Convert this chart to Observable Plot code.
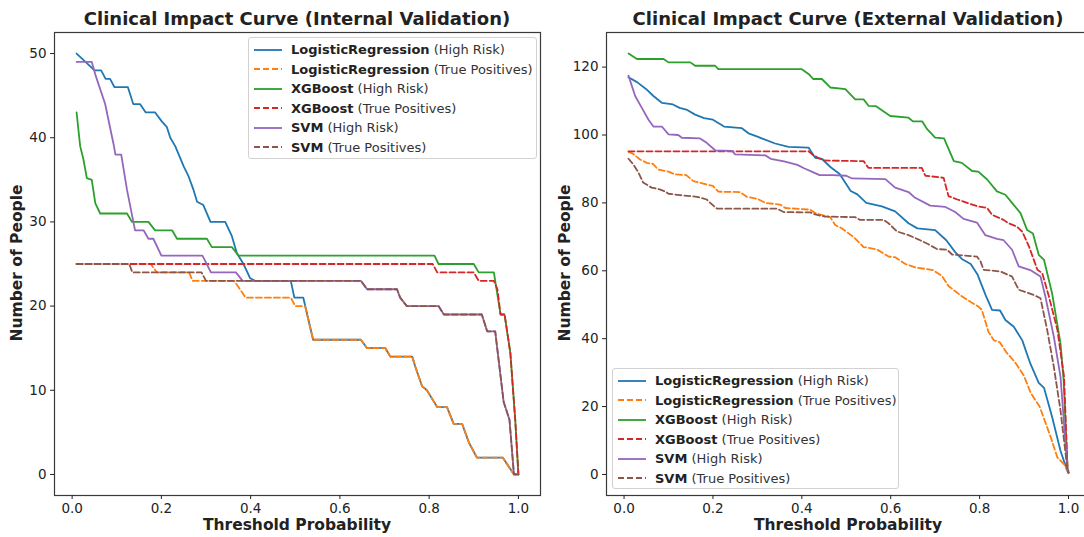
<!DOCTYPE html>
<html><head><meta charset="utf-8">
<script src="https://cdn.jsdelivr.net/npm/d3@7"></script>
<script src="https://cdn.jsdelivr.net/npm/@observablehq/plot@0.6"></script>
<style>
body{margin:0;background:#fff;font-family:"DejaVu Sans",sans-serif;color:#222;}
#root{position:relative;width:1084px;height:537px;overflow:hidden;background:#fff;}
.panel{position:absolute;top:0;}
.title{position:absolute;font-weight:bold;font-size:18px;white-space:nowrap;transform:translate(-50%,-50%);}
.xlab{position:absolute;font-weight:bold;font-size:15.5px;white-space:nowrap;transform:translate(-50%,-50%);}
.ylab{position:absolute;font-weight:bold;font-size:15.5px;white-space:nowrap;transform:translate(-50%,-50%) rotate(-90deg);}
.legend{position:absolute;border:1px solid #d2d2d2;border-radius:3px;background:rgba(255,255,255,0.85);box-sizing:border-box;padding-top:2px;}
.row{height:19.5px;line-height:19.5px;font-size:13px;white-space:nowrap;display:flex;align-items:center;}
.row svg{margin-left:5px;margin-right:9px;flex:none;}
.row b{font-weight:bold;color:#222;}
.row span{color:#333;}
</style></head><body><div id="root"></div>
<script>
// ---------- data ----------
const thresholdTicks = [0, 0.2, 0.4, 0.6, 0.8, 1.0];
const intYTicks = [0, 10, 20, 30, 40, 50];
const extYTicks = [0, 20, 40, 60, 80, 100, 120];
const modelNames = ["LogisticRegression", "LogisticRegression", "XGBoost", "XGBoost", "SVM", "SVM"];
const curveKinds = ["High Risk", "True Positives", "High Risk", "True Positives", "High Risk", "True Positives"];
const panelTitles = ["Clinical Impact Curve (Internal Validation)", "Clinical Impact Curve (External Validation)"];

// Internal validation: [threshold, number of people]
const intLRHigh = [[0.01,50],[0.03,49],[0.05,48],[0.065,48],[0.075,47],[0.085,47],[0.095,46],[0.125,46],[0.137,44],[0.152,44],[0.165,43],[0.186,43],[0.2,42],[0.212,41.3],[0.22,40],[0.231,39],[0.25,36.6],[0.261,35.4],[0.272,33.8],[0.28,32.4],[0.294,32],[0.31,30],[0.343,30],[0.358,28.3],[0.369,26.3],[0.384,25],[0.399,23.3],[0.41,23],[0.49,23],[0.498,21],[0.518,21],[0.54,16],[0.647,16],[0.661,15],[0.702,15],[0.713,14],[0.762,14],[0.769,12.8],[0.784,10.5],[0.795,10],[0.818,8],[0.84,8],[0.855,6],[0.874,6],[0.889,3.8],[0.907,2],[0.965,2],[0.99,0],[1.0,0]];
const intLRTP = [[0.01,25],[0.176,25],[0.19,24],[0.262,24],[0.27,23],[0.363,23],[0.389,21],[0.49,21],[0.5,20],[0.522,20],[0.54,16],[0.647,16],[0.661,15],[0.702,15],[0.713,14],[0.762,14],[0.769,12.8],[0.784,10.5],[0.795,10],[0.818,8],[0.84,8],[0.855,6],[0.874,6],[0.889,3.8],[0.907,2],[0.965,2],[0.99,0],[1.0,0]];
const intXGBHigh = [[0.01,43],[0.018,39],[0.025,37.5],[0.033,35.2],[0.044,35],[0.052,32.2],[0.063,31],[0.123,31],[0.134,30],[0.171,30],[0.186,29],[0.224,29],[0.235,28],[0.302,28],[0.313,27],[0.358,27],[0.373,26],[0.812,26],[0.821,25],[0.9,25],[0.911,24],[0.945,24],[0.96,19],[0.969,19],[0.982,14.4],[0.993,6.4],[1.0,0]];
const intXGBTP = [[0.01,25],[0.808,25],[0.818,24],[0.9,24],[0.911,23],[0.945,23],[0.953,22],[0.96,19],[0.969,19],[0.982,14.4],[0.993,6.4],[1.0,0]];
const intSVMHigh = [[0.01,49],[0.044,49],[0.052,47.5],[0.074,44],[0.093,39.2],[0.097,38],[0.11,38],[0.123,33.8],[0.141,29],[0.16,29],[0.171,28],[0.182,28],[0.2,26],[0.292,26],[0.311,24],[0.367,24],[0.382,23],[0.647,23],[0.661,22],[0.728,22],[0.735,21],[0.75,20],[0.821,20],[0.833,19],[0.918,19],[0.93,17],[0.948,17],[0.967,8.6],[0.98,6.5],[0.99,0],[1.0,0]];
const intSVMTP = [[0.01,25],[0.128,25],[0.135,24],[0.29,24],[0.3,23],[0.647,23],[0.661,22],[0.728,22],[0.735,21],[0.75,20],[0.821,20],[0.833,19],[0.918,19],[0.93,17],[0.948,17],[0.967,8.6],[0.98,6.5],[0.99,0],[1.0,0]];

// External validation
const extLRHigh = [[0.01,117],[0.03,115.5],[0.05,113.5],[0.066,111.5],[0.085,109.5],[0.11,109],[0.125,108],[0.14,107.5],[0.16,106],[0.18,105],[0.2,104.5],[0.225,102.5],[0.265,102],[0.28,100.5],[0.3,99.5],[0.34,97.5],[0.37,96.5],[0.415,96.3],[0.43,93.3],[0.445,93],[0.465,90.5],[0.485,88.5],[0.51,83.5],[0.525,82.5],[0.545,80],[0.58,79],[0.61,77.5],[0.64,74],[0.66,72.5],[0.7,72],[0.725,69],[0.745,65.5],[0.76,63.5],[0.78,62],[0.795,59],[0.813,53],[0.828,48.5],[0.846,48.3],[0.858,45.5],[0.877,43.5],[0.896,39.5],[0.914,32.7],[0.933,27],[0.945,25.5],[0.963,17],[0.982,7],[0.996,1.5],[1.0,1]];
const extLRTP = [[0.01,95],[0.02,94.5],[0.036,92.8],[0.051,91.8],[0.065,91.5],[0.077,89.8],[0.1,89.2],[0.115,88.4],[0.14,88.2],[0.156,86.4],[0.186,85.4],[0.2,85],[0.212,83.3],[0.261,83.2],[0.276,81.8],[0.3,81.2],[0.318,80],[0.351,79.5],[0.363,78.5],[0.419,78],[0.43,77],[0.464,75.8],[0.475,73.5],[0.49,72.5],[0.516,70],[0.539,67],[0.569,66.3],[0.595,64.2],[0.61,64],[0.633,62],[0.655,61],[0.695,60.2],[0.715,58.5],[0.73,55.5],[0.76,52.5],[0.78,50.8],[0.797,49.5],[0.805,48.5],[0.82,42],[0.832,39.5],[0.845,39],[0.86,36],[0.88,33],[0.9,29],[0.915,24],[0.935,20],[0.96,11],[0.975,5],[0.99,3],[1.0,1]];
const extXGBHigh = [[0.01,124],[0.029,122.4],[0.089,122.4],[0.1,121.4],[0.149,121.4],[0.16,120.4],[0.205,120.4],[0.212,119.4],[0.4,119.4],[0.415,118],[0.426,116.5],[0.445,116.5],[0.464,114],[0.498,113.5],[0.52,110.5],[0.539,110.5],[0.55,108.6],[0.567,108.5],[0.599,105.6],[0.64,105.1],[0.65,104],[0.671,104],[0.682,101.7],[0.7,99.2],[0.72,99],[0.742,92.3],[0.76,91.8],[0.783,89.4],[0.797,89.2],[0.817,86.9],[0.839,83.4],[0.858,82.4],[0.873,80],[0.892,77],[0.907,72],[0.92,71],[0.933,64.7],[0.945,63.2],[0.963,53.4],[0.982,38.6],[0.989,27.8],[0.998,1.2],[1.0,0.5]];
const extXGBTP = [[0.01,95.2],[0.415,95.2],[0.426,94],[0.449,92.5],[0.539,92.3],[0.55,90.3],[0.67,90.3],[0.678,88],[0.719,87.4],[0.73,82],[0.75,81],[0.772,80],[0.795,79],[0.817,78.5],[0.828,76.5],[0.854,75],[0.865,74],[0.884,73],[0.896,71.5],[0.911,67.2],[0.93,60.3],[0.941,59.3],[0.956,52.4],[0.975,42.6],[0.99,28.8],[0.998,1.2],[1.0,0.5]];
const extSVMHigh = [[0.01,117.5],[0.025,111.5],[0.04,108],[0.055,104.5],[0.066,102.5],[0.085,102.5],[0.1,100.2],[0.122,100],[0.13,99.2],[0.171,99],[0.186,97.7],[0.205,95.5],[0.243,95.3],[0.25,94.3],[0.318,94],[0.33,93],[0.36,92.2],[0.39,91.2],[0.405,90.2],[0.426,89],[0.44,88.2],[0.47,88.2],[0.5,88],[0.513,87.2],[0.588,87],[0.61,84.5],[0.64,83.2],[0.655,81.5],[0.689,79.2],[0.723,78.8],[0.745,77.3],[0.764,75.3],[0.794,74.2],[0.813,70.5],[0.839,69.4],[0.854,69],[0.873,66.2],[0.888,61.3],[0.914,60.2],[0.937,58.3],[0.948,52.4],[0.967,40.6],[0.982,28.8],[0.998,1],[1.0,0.5]];
const extSVMTP = [[0.01,93],[0.02,91.5],[0.032,89],[0.043,86],[0.062,84.5],[0.08,84],[0.092,83.4],[0.1,82.7],[0.125,82.3],[0.164,81.8],[0.186,81],[0.194,80],[0.209,78.3],[0.344,78.3],[0.359,77.3],[0.419,77.2],[0.43,76.6],[0.45,76],[0.52,75.8],[0.531,75],[0.584,75],[0.595,74],[0.614,71.6],[0.64,70.5],[0.663,69.2],[0.685,67.8],[0.704,66.4],[0.727,66.2],[0.738,64.8],[0.794,64.2],[0.802,62.8],[0.809,60.3],[0.847,59.8],[0.873,58.3],[0.888,54.4],[0.922,52.9],[0.937,51.9],[0.952,42.6],[0.967,31.7],[0.982,18.9],[0.998,1],[1.0,0.5]];

// ---------- styling ----------
const colors = ["#1f77b4", "#ff7f0e", "#2ca02c", "#d62728", "#9467bd", "#8c564b"];
const dashes = [null, "6,3", null, "6,3", null, "6,3"];
const SW = 1.8;

function makePanel(series, yDomain, yTicks, opts) {
  const lines = series.map((pts, i) => Plot.line(pts.map(([x, y]) => ({x, y})), {
    x: "x", y: "y", stroke: colors[i], strokeWidth: SW,
    strokeDasharray: dashes[i] || undefined, strokeLinejoin: "round"
  }));
  return Plot.plot({
    width: opts.width, height: 537,
    marginLeft: opts.ml, marginRight: opts.mr, marginTop: 32, marginBottom: 42,
    x: {domain: [-0.0395, 1.0495]},
    y: {domain: yDomain},
    style: {fontFamily: "DejaVu Sans", fontSize: "13.5px", color: "#222", background: "transparent", overflow: "visible"},
    marks: [
      ...lines,
      Plot.frame({stroke: "#3a3a3a", strokeWidth: 1.2}),
      Plot.axisX({ticks: thresholdTicks, tickFormat: d3.format(".1f"), tickSize: 4, tickPadding: 4, label: null}),
      Plot.axisY({ticks: yTicks, tickSize: 4, tickPadding: 4, label: null})
    ]
  });
}

const root = document.getElementById("root");
function addDiv(cls, text, x, y) {
  const d = document.createElement("div");
  d.className = cls; d.textContent = text;
  d.style.left = x + "px"; d.style.top = y + "px";
  root.appendChild(d);
}
function addLegend(x, y, w, h) {
  const lg = document.createElement("div");
  lg.className = "legend";
  Object.assign(lg.style, {left: x + "px", top: y + "px", width: w + "px", height: h + "px"});
  modelNames.forEach((m, i) => {
    const row = document.createElement("div");
    row.className = "row";
    row.innerHTML = `<svg width="28" height="10"><line x1="0" x2="28" y1="5" y2="5" stroke="${colors[i]}" stroke-width="${SW}" ${dashes[i] ? `stroke-dasharray="${dashes[i]}"` : ""}/></svg><b>${m}</b><span>&nbsp;(${curveKinds[i]})</span>`;
    lg.appendChild(row);
  });
  root.appendChild(lg);
}

// Left panel
const p1 = makePanel([intLRHigh, intLRTP, intXGBHigh, intXGBTP, intSVMHigh, intSVMTP], [-2.5, 52.5], intYTicks, {width: 545, ml: 54, mr: 5});
p1.classList.add("panel"); p1.style.left = "0px";
root.appendChild(p1);
// Right panel
const p2 = makePanel([extLRHigh, extLRTP, extXGBHigh, extXGBTP, extSVMHigh, extSVMTP], [-6.2, 130.2], extYTicks, {width: 550, ml: 61, mr: 5});
p2.classList.add("panel"); p2.style.left = "545px";
root.appendChild(p2);

addDiv("title", panelTitles[0], 297, 18);
addDiv("title", panelTitles[1], 848, 18);
addDiv("xlab", "Threshold Probability", 297, 525);
addDiv("xlab", "Threshold Probability", 848, 525);
addDiv("ylab", "Number of People", 17, 263);
addDiv("ylab", "Number of People", 565, 263);
addLegend(248, 37, 289, 122);
addLegend(612, 368, 287, 121);
</script>
</body></html>
